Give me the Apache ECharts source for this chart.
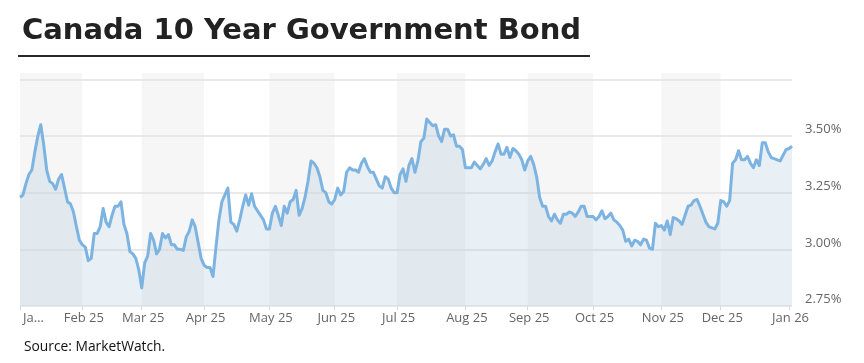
<!DOCTYPE html>
<html>
<head>
<meta charset="utf-8">
<script src="https://cdn.jsdelivr.net/npm/echarts@6/dist/echarts.min.js"></script>
<style>
html,body{margin:0;padding:0;background:#fff;}
#c{width:864px;height:363px;}
</style>
</head>
<body>
<div id="c"></div>
<script>
// Month tick labels
const monthLabels = ['Jan 25','Feb 25','Mar 25','Apr 25','May 25','Jun 25','Jul 25','Aug 25','Sep 25','Oct 25','Nov 25','Dec 25','Jan 26'];
// Daily yields (%) per month
const jan25 = [3.23,3.24,3.29,3.33,3.35,3.43,3.50,3.55,3.46,3.35,3.30,3.29,3.265,3.31,3.33,3.27,3.21,3.20,3.165,3.10,3.04];
const feb25 = [3.02,3.01,2.95,2.96,3.07,3.07,3.10,3.18,3.12,3.10,3.15,3.19,3.19,3.21,3.11,3.07,2.99,2.98,2.96,2.91];
const mar25 = [2.83,2.94,2.97,3.07,3.04,2.98,3.00,3.07,3.05,3.065,3.02,3.02,3.00,3.00,2.995,3.055,3.08,3.13,3.10,3.03,2.96];
const apr25 = [2.93,2.92,2.92,2.88,3.01,3.13,3.21,3.24,3.27,3.12,3.11,3.08,3.13,3.19,3.24,3.195,3.245,3.19,3.17,3.15,3.13,3.09];
const may25 = [3.09,3.16,3.19,3.15,3.105,3.19,3.16,3.21,3.22,3.26,3.15,3.18,3.23,3.30,3.39,3.38,3.36,3.32,3.26,3.25,3.21,3.20];
const jun25 = [3.22,3.27,3.24,3.255,3.34,3.36,3.35,3.35,3.34,3.38,3.40,3.365,3.34,3.34,3.31,3.28,3.27,3.32,3.31,3.27,3.25];
const jul25 = [3.25,3.33,3.355,3.30,3.37,3.40,3.34,3.39,3.475,3.49,3.575,3.56,3.545,3.55,3.50,3.475,3.53,3.53,3.50,3.505,3.455,3.455,3.44];
const aug25 = [3.36,3.36,3.36,3.385,3.37,3.355,3.375,3.40,3.37,3.39,3.43,3.465,3.42,3.42,3.45,3.405,3.445,3.435,3.42,3.395,3.35];
const sep25 = [3.39,3.41,3.375,3.32,3.23,3.19,3.19,3.145,3.125,3.155,3.13,3.115,3.155,3.155,3.165,3.16,3.145,3.165,3.19,3.19,3.145,3.145];
const oct25 = [3.145,3.13,3.145,3.17,3.135,3.145,3.16,3.13,3.12,3.105,3.085,3.035,3.045,3.015,3.04,3.035,3.02,3.045,3.04,3.005,3.00,3.115,3.10];
const nov25 = [3.105,3.085,3.125,3.065,3.14,3.135,3.125,3.11,3.15,3.19,3.195,3.215,3.22,3.19,3.155,3.12,3.10,3.095,3.09,3.115];
const dec25 = [3.215,3.21,3.19,3.215,3.38,3.395,3.435,3.395,3.395,3.41,3.38,3.36,3.395,3.37,3.47,3.47,3.43,3.405,3.40,3.395,3.39,3.415,3.44];
const jan26 = [3.445,3.455];
// Y-axis tick labels
const yTicks = [2.75, 3.00, 3.25, 3.50];

const months = [jan25,feb25,mar25,apr25,may25,jun25,jul25,aug25,sep25,oct25,nov25,dec25,jan26];
const categories = [];
const values = [];
const monthStart = new Set();
months.forEach((arr, m) => {
  arr.forEach((v, i) => {
    if (i === 0) monthStart.add(categories.length);
    categories.push(monthLabels[m] + ' #' + i);
    values.push(v);
  });
});
const isStart = (idx) => monthStart.has(idx);

const chart = echarts.init(document.getElementById('c'), null, {renderer: 'canvas'});
chart.setOption({
  animation: false,
  backgroundColor: '#ffffff',
  title: [
    {
      text: 'Canada 10 Year Government Bond',
      left: 17, top: 12,
      textStyle: {fontFamily: 'DejaVu Sans', fontWeight: 'bold', fontSize: 29, color: '#222222'}
    },
    {
      text: 'Source: MarketWatch.',
      left: 19, top: 335,
      textStyle: {fontFamily: 'Open Sans', fontWeight: 400, fontSize: 13.8, color: '#111111'}
    }
  ],
  graphic: [{
    type: 'line',
    shape: {x1: 18, y1: 56, x2: 590, y2: 56},
    style: {stroke: '#2a2a2a', lineWidth: 2}
  }],
  grid: {left: 20, right: 72, top: 73, bottom: 57, containLabel: false},
  xAxis: {
    type: 'category',
    z: 0,
    data: categories,
    boundaryGap: false,
    axisLine: {show: false},
    axisTick: {show: true, interval: isStart, length: 4, lineStyle: {color: '#ccd6eb', width: 1}},
    axisLabel: {
      interval: isStart,
      margin: 6,
      fontFamily: 'Open Sans',
      fontSize: 13,
      color: '#666666',
      alignMinLabel: 'left',
      padding: [0, 0, 0, 3],
      formatter: (v, idx) => idx === 0 ? 'Ja\u2026' : v.split(' #')[0]
    },
    splitLine: {show: false},
    splitArea: {show: true, interval: isStart, areaStyle: {color: ['#f6f6f6', '#ffffff']}}
  },
  yAxis: {
    type: 'value',
    z: 1,
    position: 'right',
    min: 2.75,
    max: 3.778,
    interval: 0.25,
    axisLine: {show: false},
    axisTick: {show: false},
    splitLine: {show: true, lineStyle: {color: ['#e2e2e2','#e2e2e2','#e2e2e2','#e2e2e2','#e2e2e2','rgba(0,0,0,0)'], width: 1.5}},
    axisLabel: {
      margin: 13,
      fontFamily: 'Open Sans',
      fontSize: 13,
      color: '#666666',
      verticalAlign: 'bottom',
      formatter: (v) => yTicks.some(t => Math.abs(t - v) < 1e-6) ? v.toFixed(2) + '%' : ''
    }
  },
  series: [{
    type: 'line',
    z: 2,
    data: values,
    showSymbol: false,
    symbol: 'none',
    smooth: false,
    lineStyle: {color: '#7db3e1', width: 3, join: 'round'},
    areaStyle: {color: 'rgba(178,204,226,0.42)'}
  }]
});
</script>
</body>
</html>
